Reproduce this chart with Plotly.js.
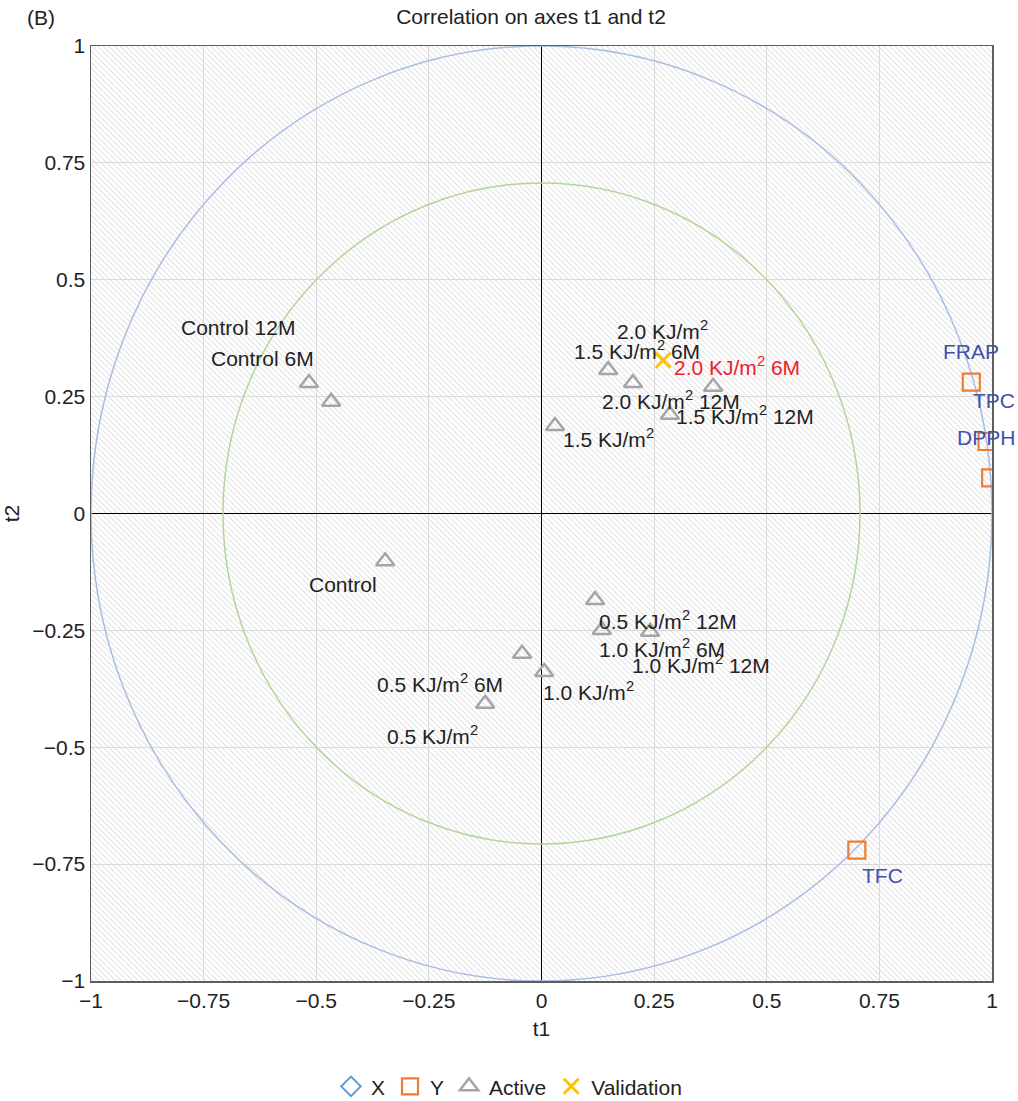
<!DOCTYPE html>
<html>
<head>
<meta charset="utf-8">
<script src="https://cdn.plot.ly/plotly-3.0.1.min.js"></script>
<style>html,body{margin:0;padding:0;background:#fff;}#chart{width:1018px;height:1101px;}</style>
</head>
<body>
<div id="chart"></div>
<script>
// ---- data ----
var activeLabels = ["Control", "Control 6M", "Control 12M",
  "0.5 KJ/m<sup>2</sup>", "0.5 KJ/m<sup>2</sup> 6M", "0.5 KJ/m<sup>2</sup> 12M",
  "1.0 KJ/m<sup>2</sup>", "1.0 KJ/m<sup>2</sup> 6M", "1.0 KJ/m<sup>2</sup> 12M",
  "1.5 KJ/m<sup>2</sup>", "1.5 KJ/m<sup>2</sup> 6M", "1.5 KJ/m<sup>2</sup> 12M",
  "2.0 KJ/m<sup>2</sup>", "2.0 KJ/m<sup>2</sup> 12M"];
var activeT1 = [-0.347, -0.467, -0.516, -0.125, -0.043, 0.119, 0.006, 0.134, 0.241, 0.030, 0.148, 0.285, 0.381, 0.203];
var activeT2 = [-0.102, 0.239, 0.279, -0.407, -0.300, -0.185, -0.339, -0.249, -0.253, 0.187, 0.307, 0.211, 0.271, 0.279];

var yLabels = ["FRAP", "TPC", "DPPH", "TFC"];
var yT1 = [0.954, 0.989, 0.997, 0.700];
var yT2 = [0.281, 0.154, 0.076, -0.720];

var validLabels = ["2.0 KJ/m<sup>2</sup> 6M"];
var validT1 = [0.270];
var validT2 = [0.328];

var circleRadii = [1, 0.707];
var tickVals = [-1, -0.75, -0.5, -0.25, 0, 0.25, 0.5, 0.75, 1];
var tickText = ["\u22121", "\u22120.75", "\u22120.5", "\u22120.25", "0", "0.25", "0.5", "0.75", "1"];

// ---- styling (label pixel offsets) ----
var activeShift = [[-42, 23], [-69, -43], [-71, -56], [-53, 31], [-82, 29], [73, 20], [44, 19], [60, 18], [51, 32], [53, 12], [29, -20], [75, 0], [-51, -57], [38, 17]];
var yShift = [[0, -31], [7, -41], [-5, -40], [26, 25]];
var validShift = [[74, 6]];
var circleColors = ["#a9bde3", "#b2d69a"];

var FONT = "Liberation Sans, Arial, sans-serif";
var FS = 21;

var traces = [
  {type: "scatter", mode: "markers", name: "X", x: [null], y: [null],
   marker: {symbol: "diamond-open", color: "#5b9bd5", size: 15, line: {width: 2}}, hoverinfo: "skip"},
  {type: "scatter", mode: "markers", name: "Y", x: yT1, y: yT2, text: yLabels,
   marker: {symbol: "square-open", color: "#ed7d31", size: 17, line: {width: 2.2}}},
  {type: "scatter", mode: "markers", name: "Active", x: activeT1, y: activeT2, text: activeLabels,
   marker: {symbol: "triangle-up-open", color: "#a5a5a5", size: 16, line: {width: 2.5}}},
  {type: "scatter", mode: "markers", name: "Validation", x: validT1, y: validT2, text: validLabels,
   marker: {symbol: "x-thin-open", color: "#ffc000", size: 15, line: {width: 2.8}}}
];

var annotations = [];
function addLabels(xs, ys, labels, shifts, color) {
  for (var i = 0; i < xs.length; i++) {
    annotations.push({x: xs[i], y: ys[i], xref: "x", yref: "y", text: labels[i], showarrow: false,
      xanchor: "center", yanchor: "middle", xshift: shifts[i][0], yshift: -shifts[i][1],
      font: {family: FONT, size: FS, color: color}});
  }
}
addLabels(activeT1, activeT2, activeLabels, activeShift, "#222222");
addLabels(yT1, yT2, yLabels, yShift, "#3f51a8");
addLabels(validT1, validT2, validLabels, validShift, "#f0202a");
annotations.push({xref: "paper", yref: "paper", x: -0.055, y: 1.031, text: "(B)", showarrow: false,
  xanchor: "center", yanchor: "middle", font: {family: FONT, size: FS, color: "#222"}});

var shapes = circleRadii.map(function (r, i) {
  return {type: "circle", xref: "x", yref: "y", x0: -r, x1: r, y0: -r, y1: r,
    line: {color: circleColors[i], width: 1.5}, layer: "between"};
});

var hatch = "<svg xmlns='http://www.w3.org/2000/svg' width='901' height='935'>" +
  "<defs><pattern id='p' width='4' height='4' patternUnits='userSpaceOnUse' patternTransform='rotate(-45)'>" +
  "<line x1='0' y1='0' x2='0' y2='4' stroke='#d0d0d0' stroke-width='1.3'/></pattern></defs>" +
  "<rect width='100%' height='100%' fill='url(#p)'/></svg>";

var axisCommon = {
  range: [-1, 1], tickvals: tickVals, ticktext: tickText, showgrid: true, gridcolor: "#dadada", gridwidth: 1,
  zeroline: true, zerolinecolor: "#000000", zerolinewidth: 1.2,
  showline: true, linecolor: "#5e5e5e", linewidth: 1.5, mirror: true, ticks: "",
  tickfont: {family: FONT, size: FS, color: "#222"}
};

var layout = {
  width: 1018, height: 1101,
  margin: {l: 91, r: 26, t: 46, b: 120},
  paper_bgcolor: "#ffffff", plot_bgcolor: "#ffffff",
  title: {text: "Correlation on axes t1 and t2", x: 0.5216, xref: "container", xanchor: "center",
    y: 0.985, yref: "container", yanchor: "middle", font: {family: FONT, size: FS, color: "#222"}},
  xaxis: Object.assign({}, axisCommon, {automargin: false, title: {text: "t1", font: {family: FONT, size: FS, color: "#222"}, standoff: 10}}),
  yaxis: Object.assign({}, axisCommon, {automargin: false, title: {text: "t2", font: {family: FONT, size: FS, color: "#222"}, standoff: 10}}),
  showlegend: true,
  legend: {orientation: "h", x: 0.5, xref: "container", xanchor: "center", y: 0.013, yref: "container", yanchor: "middle",
    font: {family: FONT, size: FS, color: "#222"}, itemwidth: 30, bgcolor: "rgba(0,0,0,0)"},
  annotations: annotations,
  shapes: shapes,
  images: [{source: "data:image/svg+xml;utf8," + encodeURIComponent(hatch), xref: "x domain", yref: "y domain",
    x: 0, y: 1, sizex: 1, sizey: 1, sizing: "stretch", xanchor: "left", yanchor: "top", layer: "below"}]
};

Plotly.newPlot("chart", traces, layout, {displayModeBar: false, staticPlot: true});
</script>
</body>
</html>
